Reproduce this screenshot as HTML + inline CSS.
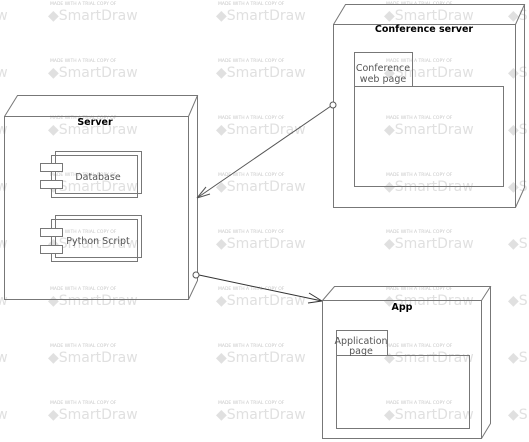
<!DOCTYPE html>
<html><head><style>
html,body{margin:0;padding:0;background:#fff;}
svg{display:block;}
</style></head><body>
<svg width="529" height="442" viewBox="0 0 529 442" xmlns="http://www.w3.org/2000/svg" font-family="'DejaVu Sans','Liberation Sans',sans-serif">
<g fill="#e0e0e0">
<g id="wm">
<text x="48" y="20" font-size="14">◆SmartDraw</text><text x="216" y="20" font-size="14">◆SmartDraw</text><text x="384" y="20" font-size="14">◆SmartDraw</text>
<text x="-82" y="20" font-size="14">◆SmartDraw</text><text x="508" y="20" font-size="14">◆S</text>
<text x="50" y="5" font-size="4.5" fill="#c8c8c8">MADE WITH A TRIAL COPY OF</text>
<text x="218" y="5" font-size="4.5" fill="#c8c8c8">MADE WITH A TRIAL COPY OF</text>
<text x="386" y="5" font-size="4.5" fill="#c8c8c8">MADE WITH A TRIAL COPY OF</text>
</g>
<use href="#wm" y="57"/><use href="#wm" y="114"/><use href="#wm" y="171"/><use href="#wm" y="228"/><use href="#wm" y="285"/><use href="#wm" y="342"/><use href="#wm" y="399"/>
</g>
<g fill="none" stroke="#777" stroke-width="1">
<rect x="4.5" y="116.5" width="184" height="183"/>
<path d="M4.5 116.5 L17.5 95.5 L197.5 95.5 L188.5 116.5 M197.5 95.5 L197.5 280.5 L188.5 299.5"/>
<rect x="55.5" y="151.5" width="86" height="42"/>
<rect x="51.5" y="155.5" width="86" height="42"/>
<rect x="40.5" y="163.5" width="22" height="8" fill="#fff"/>
<rect x="40.5" y="180.5" width="22" height="8" fill="#fff"/>
<rect x="55.5" y="215.5" width="86" height="42"/>
<rect x="51.5" y="219.5" width="86" height="42"/>
<rect x="40.5" y="228.5" width="22" height="8" fill="#fff"/>
<rect x="40.5" y="245.5" width="22" height="8" fill="#fff"/>
<rect x="333.5" y="24.5" width="182" height="183"/>
<path d="M333.5 24.5 L345.5 4.5 L524.5 4.5 L515.5 24.5 M524.5 4.5 L524.5 187.5 L515.5 207.5"/>
<rect x="354.5" y="52.5" width="58" height="34"/>
<rect x="354.5" y="86.5" width="149" height="100"/>
<rect x="322.5" y="300.5" width="159" height="138"/>
<path d="M322.5 300.5 L334.5 286.5 L490.5 286.5 L481.5 300.5 M490.5 286.5 L490.5 423.5 L481.5 438.5"/>
<rect x="336.5" y="330.5" width="51" height="25"/>
<rect x="336.5" y="355.5" width="133" height="73"/>
<line x1="331" y1="106" x2="197" y2="198" stroke="#555"/>
<path d="M197 198 L206 187 M197 198 L210 194" stroke="#555"/>
<circle cx="333" cy="105" r="3" fill="#fff" stroke="#555"/>
<line x1="199" y1="275" x2="322" y2="301" stroke="#333"/>
<path d="M322 301 L309 293 M322 301 L308 303" stroke="#333"/>
<circle cx="196" cy="275" r="3" fill="#fff" stroke="#555"/>
</g>
<g font-size="9.5" text-anchor="middle">
<text x="95" y="125" font-weight="bold" fill="#000">Server</text>
<text x="424" y="32" font-weight="bold" fill="#000">Conference server</text>
<text x="402" y="310" font-weight="bold" fill="#000">App</text>
<g fill="#555">
<text x="98" y="180">Database</text>
<text x="98" y="244">Python Script</text>
<text x="383" y="71">Conference</text>
<text x="383" y="82">web page</text>
<text x="361" y="344">Application</text>
<text x="361" y="354">page</text>
</g>
</g>
</svg>
</body></html>
